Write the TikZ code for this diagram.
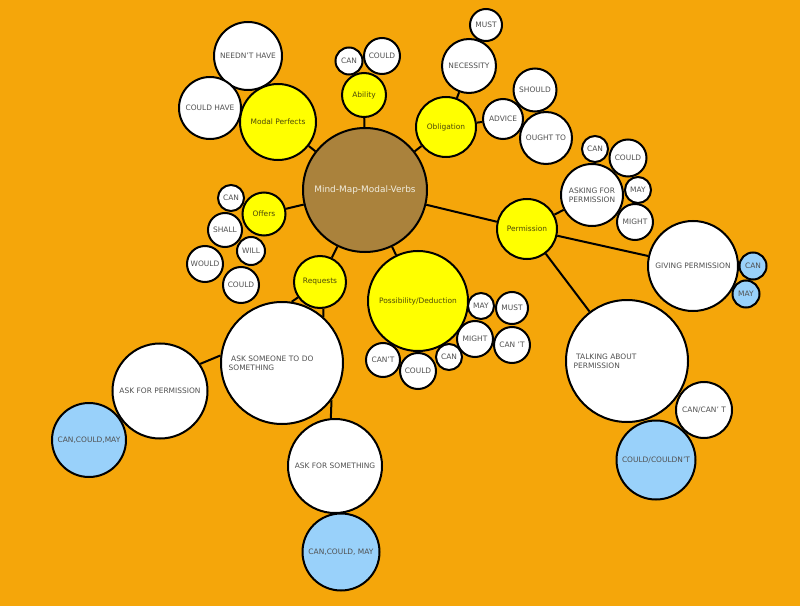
\documentclass[tikz,border=0pt]{standalone}
\usepackage{fontspec}
\setmainfont{DejaVu Sans}
\usetikzlibrary{positioning}

\definecolor{bgorange}{RGB}{245,166,10}
\definecolor{hubbrown}{RGB}{170,130,60}
\definecolor{hubtext}{RGB}{240,236,222}
\definecolor{topicyellow}{RGB}{255,255,0}
\definecolor{topictext}{RGB}{75,72,10}
\definecolor{answerblue}{RGB}{153,209,250}
\definecolor{leaftext}{RGB}{80,80,80}

\begin{document}
\begin{tikzpicture}[
  x=0.75pt,y=-0.75pt,
  every node/.style={font=\fontsize{5.6}{6.8}\selectfont, inner sep=0pt, align=center},
  bubble/.style={circle,draw=black,line width=1.5pt,minimum size=#1*1.5pt},
  hub/.style={bubble=#1,fill=hubbrown,text=hubtext,font=\fontsize{6.7}{8}\selectfont},
  topic/.style={bubble=#1,fill=topicyellow,text=topictext},
  leaf/.style={bubble=#1,fill=white,text=leaftext},
  answer/.style={bubble=#1,fill=answerblue,text=leaftext},
  every edge/.style={draw=black,line width=1.5pt}]

  \path[use as bounding box, fill=bgorange] (0,0) rectangle (800,606);

  \node[hub=62]      (mmv) at (365,190) {Mind-Map-Modal-Verbs};

  \node[topic=38]    (mod) at (278,122) {Modal Perfects};
  \node[topic=22]    (abl) at (364,95)  {Ability};
  \node[topic=30]    (obl) at (446,127) {Obligation};
  \node[topic=21.5]  (off) at (264,214) {Offers};
  \node[topic=26]    (req) at (320,282) {Requests};
  \node[topic=50]    (pos) at (418,301) {Possibility/Deduction};
  \node[topic=30]    (per) at (527,229) {Permission};

  \node[leaf=34]     (ndh) at (248,56)  {NEEDN'T HAVE};
  \node[leaf=31]     (cdh) at (210,108) {COULD HAVE};

  \node[leaf=13.5]   (ab1) at (349,61)  {CAN};
  \node[leaf=18]     (ab2) at (382,56)  {COULD};

  \node[leaf=27]     (nec) at (469,66)  {NECESSITY};
  \node[leaf=16]     (mst) at (486,25)  {MUST};
  \node[leaf=20]     (adv) at (503,119) {ADVICE};
  \node[leaf=21.5]   (shd) at (535,90)  {SHOULD};
  \node[leaf=26]     (ogt) at (546,138) {OUGHT TO};

  \node[leaf=31]     (afp) at (592,195) {ASKING FOR\\PERMISSION};
  \node[leaf=13]     (af1) at (595,149) {CAN};
  \node[leaf=18.5]   (af2) at (628,158) {COULD};
  \node[leaf=13]     (af3) at (638,190) {MAY};
  \node[leaf=18]     (af4) at (635,222) {MIGHT};
  \node[leaf=45]     (gvp) at (693,266) {GIVING PERMISSION};
  \node[answer=13.5] (gv1) at (753,266) {CAN};
  \node[answer=13.5] (gv2) at (746,294) {MAY};
  \node[leaf=61, text width=80pt, align=left]
                     (tap) at (627,361) {\ TALKING ABOUT\\PERMISSION};
  \node[leaf=28]     (cct) at (704,410) {CAN/CAN' T};
  \node[answer=39.5] (ccd) at (656,460) {COULD/COULDN'T};

  \node[leaf=13]     (of1) at (231,198) {CAN};
  \node[leaf=17]     (of2) at (225,230) {SHALL};
  \node[leaf=14]     (of3) at (251,251) {WILL};
  \node[leaf=18]     (of4) at (205,264) {WOULD};
  \node[leaf=18]     (of5) at (241,285) {COULD};

  \node[leaf=13]     (po1) at (481,306) {MAY};
  \node[leaf=16]     (po2) at (512,308) {MUST};
  \node[leaf=18]     (po3) at (475,339) {MIGHT};
  \node[leaf=18]     (po4) at (512,345) {CAN 'T};
  \node[leaf=13]     (po5) at (449,357) {CAN};
  \node[leaf=18]     (po6) at (418,371) {COULD};
  \node[leaf=17]     (po7) at (383,360) {CAN'T};

  \node[leaf=61, text width=80pt, align=left]
                     (asd) at (282,363) {\ ASK SOMEONE TO DO\\SOMETHING};
  \node[leaf=47.5]   (akp) at (160,391) {ASK FOR PERMISSION};
  \node[answer=37]   (ak1) at (89,440)  {CAN,COULD,MAY};
  \node[leaf=47]     (aks) at (335,466) {ASK FOR SOMETHING};
  \node[answer=38.5] (ak2) at (341,552) {CAN,COULD, MAY};

  \path
    (mmv)     edge (abl)
    (mmv)     edge (mod)
    (mmv)     edge (obl)
    (mmv)     edge (off)
    (mmv)     edge (req)
    (mmv)     edge (pos)
    (mmv)     edge (per)

    (obl)     edge (nec)
    (obl)     edge (adv)

    (per)     edge (afp)
    (per)     edge (gvp)
    (per)     edge (tap)

    (req.-83) edge (asd.48)
    (req.-145) edge (asd.81)
    (asd.173) edge (akp.34)
    (asd.-37) edge (aks.95)
  ;

\end{tikzpicture}
\end{document}
